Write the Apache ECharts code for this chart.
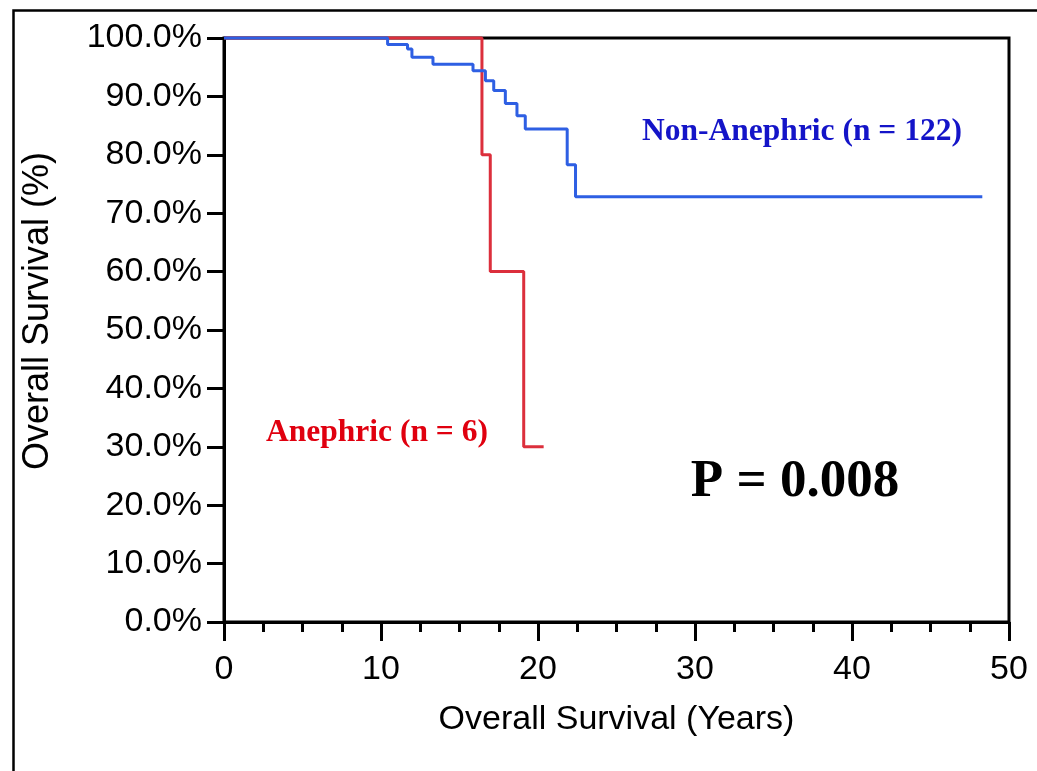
<!DOCTYPE html>
<html>
<head>
<meta charset="utf-8">
<script src="https://cdn.jsdelivr.net/npm/echarts@6/dist/echarts.min.js"></script>
<style>
html,body{margin:0;padding:0;background:#fff;}
#c{width:1037px;height:771px;}
</style>
</head>
<body>
<div id="c"></div>
<script>
// Kaplan-Meier step points (years, % surviving)
const nonAnephricTimes = [0, 10.42, 11.69, 11.97, 13.31, 15.86, 16.65, 17.18, 17.92, 18.66, 19.19, 21.86, 22.39, 48.3];
const nonAnephricSurv  = [100, 98.9, 98.1, 96.7, 95.5, 94.4, 92.7, 91.0, 88.8, 86.7, 84.4, 78.3, 72.8, 72.8];
const anephricTimes = [0, 16.43, 16.96, 19.09, 20.36];
const anephricSurv  = [100, 80, 60, 30, 30];
const xTicks = [0, 10, 20, 30, 40, 50];
const yTicks = [0, 10, 20, 30, 40, 50, 60, 70, 80, 90, 100];

const pairs = (t, s) => t.map((v, i) => [v, s[i]]);

const chart = echarts.init(document.getElementById('c'), null, {renderer: 'canvas'});
const axisFont = {fontFamily: 'Liberation Sans, Arial, sans-serif', fontSize: 34, color: '#000'};

chart.setOption({
  animation: false,
  backgroundColor: '#fff',
  grid: {left: 224, top: 38, right: 28, bottom: 149, show: true, borderColor: '#000', borderWidth: 3, backgroundColor: 'transparent'},
  xAxis: {
    type: 'value', min: xTicks[0], max: xTicks[xTicks.length - 1], interval: 10,
    name: 'Overall Survival (Years)', nameLocation: 'middle', nameGap: 81,
    nameTextStyle: Object.assign({}, axisFont, {fontSize: 34}),
    axisLine: {show: true, lineStyle: {color: '#000', width: 3}},
    axisTick: {show: true, inside: false, length: 19, lineStyle: {color: '#000', width: 3}},
    minorTick: {show: true, splitNumber: 4, length: 10, lineStyle: {color: '#000', width: 3}},
    axisLabel: Object.assign({}, axisFont, {margin: 31}),
    splitLine: {show: false}
  },
  yAxis: {
    type: 'value', min: yTicks[0], max: yTicks[yTicks.length - 1], interval: 10,
    name: 'Overall Survival (%)', nameLocation: 'middle', nameGap: 168, nameRotate: 90,
    nameTextStyle: Object.assign({}, axisFont, {fontSize: 36, padding: [0, 0, 0, 38]}),
    axisLine: {show: true, lineStyle: {color: '#000', width: 3}},
    axisTick: {show: true, inside: false, length: 17, lineStyle: {color: '#000', width: 3}},
    axisLabel: Object.assign({}, axisFont, {margin: 22, formatter: v => v.toFixed(1) + '%'}),
    splitLine: {show: false}
  },
  series: [
    {
      name: 'Anephric', type: 'line', step: 'end', clip: false, showSymbol: false, symbol: 'none',
      data: pairs(anephricTimes, anephricSurv),
      lineStyle: {color: '#dc2f3c', width: 3}, z: 2
    },
    {
      name: 'Non-Anephric', type: 'line', step: 'end', clip: false, showSymbol: false, symbol: 'none',
      data: pairs(nonAnephricTimes, nonAnephricSurv),
      lineStyle: {color: '#2e5fe3', width: 3}, z: 3
    }
  ],
  graphic: [
    {type: 'rect', left: 11, top: 8, shape: {width: 1200, height: 900}, style: {fill: 'none', stroke: '#000', lineWidth: 2.5}, z: 100, silent: true},
    {type: 'text', x: 802, y: 132, style: {text: 'Non-Anephric (n = 122)', fill: '#1414c8', font: 'bold 31.5px "Liberation Serif", "Times New Roman", serif', textAlign: 'center', textVerticalAlign: 'middle'}, z: 100},
    {type: 'text', x: 377, y: 433, style: {text: 'Anephric (n = 6)', fill: '#e0000f', font: 'bold 31.5px "Liberation Serif", "Times New Roman", serif', textAlign: 'center', textVerticalAlign: 'middle'}, z: 100},
    {type: 'text', x: 795, y: 482, style: {text: 'P = 0.008', fill: '#000', font: 'bold 53px "Liberation Serif", "Times New Roman", serif', textAlign: 'center', textVerticalAlign: 'middle'}, z: 100}
  ]
});
</script>
</body>
</html>
